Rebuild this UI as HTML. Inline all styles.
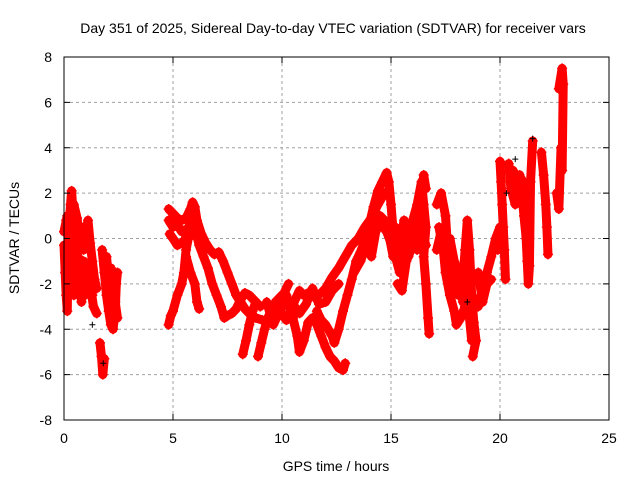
<!DOCTYPE html>
<html><head><meta charset="utf-8"><style>
body{margin:0;background:#fff}
svg{display:block;font-family:"Liberation Sans",sans-serif}
</style></head><body>
<svg id="chart" width="640" height="480" viewBox="0 0 640 480" xmlns="http://www.w3.org/2000/svg">
<rect width="640" height="480" fill="#fff"/>
<text x="333" y="33" font-size="14" text-anchor="middle">Day 351 of 2025, Sidereal Day-to-day VTEC variation (SDTVAR) for receiver vars</text>
<text x="336" y="471" font-size="14" text-anchor="middle">GPS time / hours</text>
<text transform="translate(19,238) rotate(-90)" font-size="14" text-anchor="middle">SDTVAR / TECUs</text>
<g id="grid"></g><g id="marks"></g><g id="axes"></g>
</svg>
<script>
const xTicks=[0,5,10,15,20,25];
const yTicks=[-8,-6,-4,-2,0,2,4,6,8];
const tracks=[
[[0,-0.3],[0.1,-2.5],[0.15,-3.2],[0.2,0],[0.3,1.5],[0.35,2.1],[0.45,0.5],[0.55,-0.5],[0.65,-1.5],[0.75,-1],[0.85,-2],[0.95,-2.5],[1.05,-1.2],[1.2,-2],[1.35,-3],[1.5,-3.3]],
[[0.2,0.2],[0.4,1.2],[0.5,0.8],[0.6,-0.3],[0.7,0.5],[0.8,0.2],[0.9,-0.5],[1.0,0],[1.1,0.8],[1.2,-0.2],[1.3,-1],[1.4,-1.8],[1.5,-2.2]],
[[0.05,-1.5],[0.2,-2.3],[0.35,-1],[0.5,-1.8],[0.65,-0.8],[0.8,-2.8],[0.95,-1.5]],
[[0.1,0.8],[0.3,-0.5],[0.45,-2.5],[0.6,-1.2],[0.75,-2.2],[0.9,-1.0],[1.05,-2.0],[1.2,-1.2],[1.3,-2.5]],
[[0.0,0.3],[0.15,1.0],[0.3,0.6],[0.45,1.5],[0.6,0.9],[0.75,-0.2],[0.9,0.5],[1.05,0.5]],
[[1.75,-0.5],[1.85,-1.5],[1.95,-2.5],[2.05,-3.2],[2.15,-3.8],[2.25,-4],[2.35,-3.2],[2.4,-2],[2.45,-1.5]],
[[1.95,-0.8],[2.05,-1.8],[2.15,-1.3],[2.25,-2.5],[2.35,-2.8],[2.45,-3.5]],
[[1.65,-4.6],[1.72,-5.2],[1.78,-6.0],[1.85,-5.3]],
[[4.8,1.3],[5.0,1.1],[5.2,0.9],[5.4,0.8],[5.6,0.9],[5.8,1.3],[5.9,1.6],[6.0,1.4],[6.1,0.8],[6.3,0.2],[6.5,-0.2],[6.7,-0.5],[6.9,-0.7],[7.1,-0.6],[7.3,-1.0],[7.5,-1.5],[7.7,-2.0],[7.9,-2.5],[8.1,-2.8],[8.3,-3.1],[8.5,-3.3],[8.8,-3.5],[9.1,-3.6],[9.4,-3.7],[9.7,-3.5]],
[[4.85,0.2],[5.0,0],[5.2,-0.3],[5.4,-0.2],[5.6,0],[5.8,0.8],[6.0,0.5],[6.2,-0.3],[6.4,-0.8],[6.6,-1.3],[6.8,-2],[7.0,-2.5],[7.2,-3],[7.35,-3.5],[7.5,-3.4],[7.7,-3.3],[7.9,-3.1],[8.1,-2.7],[8.3,-2.4],[8.5,-2.5],[8.8,-2.8],[9.0,-3.0]],
[[4.8,0.8],[5.0,0.5],[5.2,0.6],[5.4,0.3],[5.6,0.4],[5.8,0.1]],
[[4.8,-3.8],[4.9,-3.4],[5.0,-3.2],[5.2,-2.5],[5.4,-2.0],[5.5,-1.5],[5.6,-0.5],[5.7,0],[5.8,0.5]],
[[5.6,-0.8],[5.8,-1.5],[6.0,-2],[6.1,-2.8],[6.2,-3.1]],
[[8.2,-5.1],[8.35,-4.5],[8.5,-3.8],[8.65,-3.2],[8.8,-2.8]],
[[8.9,-5.2],[9.05,-4.6],[9.2,-4.0],[9.35,-3.5],[9.5,-3.2],[9.7,-2.8],[9.9,-2.6],[10.1,-2.4],[10.3,-2.0]],
[[9.5,-3],[9.8,-3.4],[10.0,-3.0],[10.2,-2.5],[10.4,-3.2],[10.6,-2.7],[10.8,-2.3],[11.0,-2.5],[11.2,-2.4],[11.5,-2.6],[11.8,-2.4],[12.0,-2.2],[12.3,-1.7],[12.6,-1.3],[12.9,-0.8],[13.2,-0.3],[13.5,0],[13.8,0.5],[14.1,0.9],[14.4,1.5],[14.7,2.0]],
[[9.3,-2.8],[9.6,-3.8],[9.9,-3.2],[10.2,-3.6],[10.5,-2.9],[10.8,-3.3],[11.1,-2.9],[11.4,-2.2],[11.7,-2.9],[12.0,-2.8],[12.3,-2.3],[12.6,-2.0]],
[[10.5,-3.5],[10.7,-4.3],[10.8,-5],[11.0,-4.5],[11.2,-3.7],[11.4,-3.5],[11.6,-3.8],[11.8,-4.3],[12.0,-4.8],[12.2,-5.2],[12.4,-5.4],[12.6,-5.7],[12.8,-5.8],[12.9,-5.5]],
[[11.6,-3.2],[11.8,-3.6],[12.0,-3.8],[12.3,-4.3],[12.4,-4.6],[12.6,-4.0],[12.8,-3.2],[13.0,-2.5],[13.2,-1.8],[13.4,-1.0],[13.6,-0.6],[13.8,-0.1],[14.0,0.6],[14.2,1.4],[14.4,2.1],[14.6,2.5],[14.8,2.9],[14.9,2.5],[15.0,1.5],[15.1,0.3],[15.3,-0.5],[15.5,-1.3],[15.7,-1.0]],
[[13.3,-1.5],[13.6,-1.0],[13.9,-0.2],[14.1,-0.8],[14.3,0.3],[14.5,1.0],[14.7,0.8],[14.9,0.2],[15.1,-0.8]],
[[14.2,1.2],[14.5,0.7],[14.8,0.3],[15.0,-0.2],[15.2,-0.8],[15.4,-1.5],[15.6,-1.2],[15.8,0],[16.0,0.8],[16.2,1.5],[16.4,2.5],[16.5,1.5],[16.6,0.5],[16.5,-0.8],[16.6,-2],[16.7,-3.5],[16.75,-4.2]],
[[15.3,-2],[15.5,-2.3],[15.7,-1],[15.9,-0.5],[16.1,0.2],[16.3,1],[16.4,1.8],[16.5,2.8],[16.6,2.2]],
[[15.2,0.5],[15.4,-0.3],[15.6,0.8],[15.8,-0.8],[16.0,-0.2],[16.2,-0.5],[16.4,0.3],[16.6,-0.3]],
[[17.1,1.5],[17.3,2],[17.5,1.0],[17.6,-0.5],[17.7,-1.5],[17.9,-2],[18.1,-2.5],[18.3,-1.8],[18.4,-0.5],[18.5,0.8],[18.6,-0.5],[18.7,-2.5],[18.8,-3.7],[18.9,-4.5],[18.75,-5.2]],
[[17.2,0.5],[17.4,-0.5],[17.5,-1.5],[17.7,-2.5],[17.9,-3.2],[18.0,-3.8],[18.2,-3.5],[18.4,-3],[18.6,-3.5],[18.7,-4.5]],
[[17.1,-0.5],[17.3,0.3],[17.5,-0.8],[17.7,0],[17.9,-1.0],[18.1,-1.5],[18.3,-2.8],[18.5,-2.0]],
[[19.0,-3],[19.2,-2.2],[19.4,-1.5],[19.6,-0.8],[19.8,0],[20.0,0.5],[20.1,0.2],[19.9,-0.5]],
[[19.0,-1.5],[19.2,-2.8],[19.4,-2.0],[19.6,-1.8]],
[[20.0,3.4],[20.05,2.5],[20.1,1.5],[20.15,0.5],[20.2,-0.5],[20.25,-1.8]],
[[20.4,3.3],[20.5,2.2],[20.7,1.5],[20.9,2.8],[21.0,2],[21.1,1],[21.2,0],[21.25,-1],[21.3,-2],[21.35,-1.2],[21.4,2.5],[21.5,4.3]],
[[20.6,3.0],[20.8,2.0],[21.0,2.6],[21.2,1.8],[21.3,0.5]],
[[21.9,3.8],[22.0,2.8],[22.1,1.5],[22.15,0.5],[22.2,-0.7]],
[[22.6,2],[22.7,1.3],[22.8,4],[22.85,3],[22.9,6.8],[22.85,7.5],[22.7,6.6]]
];
const blackPts=[[1.3,-3.8],[1.8,-5.5],[18.5,-2.8],[20.3,2.0],[20.7,3.5],[21.5,4.4]];
const NS="http://www.w3.org/2000/svg";
const X0=64,X1=609,Y0=420,Y1=57;
const sx=t=>X0+(t-0)/(25-0)*(X1-X0);
const sy=v=>Y0-(v+8)/16*(Y0-Y1);
function mk(tag,a,p){const e=document.createElementNS(NS,tag);for(const k in a)e.setAttribute(k,a[k]);p.appendChild(e);return e;}
const grid=document.getElementById('grid'),marks=document.getElementById('marks'),axes=document.getElementById('axes');
xTicks.forEach(t=>{
 if(t>0&&t<25){const g=mk('line',{x1:sx(t),x2:sx(t),y1:Y1,y2:Y0,stroke:'#a0a0a0','stroke-dasharray':'3,3'},grid);
 
 }
 const l=mk('text',{x:sx(t),y:443,'font-size':14,'text-anchor':'middle'},axes);l.textContent=t;
 
 
 mk('line',{x1:sx(t),x2:sx(t),y1:Y0,y2:Y0-6,stroke:'#000'},axes);
 mk('line',{x1:sx(t),x2:sx(t),y1:Y1,y2:Y1+6,stroke:'#000'},axes);
});
yTicks.forEach(v=>{
 if(v>-8&&v<8){const g=mk('line',{x1:X0,x2:X1,y1:sy(v),y2:sy(v),stroke:'#a0a0a0','stroke-dasharray':'3,3'},grid);
 
 }
 const l=mk('text',{x:52,y:sy(v)+5,'font-size':14,'text-anchor':'end'},axes);l.textContent=v;
 
 
 mk('line',{x1:X0,x2:X0+6,y1:sy(v),y2:sy(v),stroke:'#000'},axes);
 mk('line',{x1:X1,x2:X1-6,y1:sy(v),y2:sy(v),stroke:'#000'},axes);
});
const fr=mk('rect',{x:X0,y:Y1,width:X1-X0,height:Y0-Y1,fill:'none',stroke:'#000'},axes);


tracks.forEach(tr=>{
 const pl=mk('polyline',{points:tr.map(p=>sx(p[0])+','+sy(p[1])).join(' '),fill:'none',stroke:'#f00','stroke-width':9,'stroke-linejoin':'round','stroke-linecap':'round'},marks);
 
 
 tr.forEach(p=>{
  const m=mk('path',{d:`M${sx(p[0])-5},${sy(p[1])}h10M${sx(p[0])},${sy(p[1])-5}v10`,stroke:'#f00','stroke-width':1.5},marks);
  
  
 });
});
blackPts.forEach(p=>{
 const m=mk('path',{d:`M${sx(p[0])-3},${sy(p[1])}h6M${sx(p[0])},${sy(p[1])-3}v6`,stroke:'#000','stroke-width':1},marks);
 
 
});
</script>
</body></html>
